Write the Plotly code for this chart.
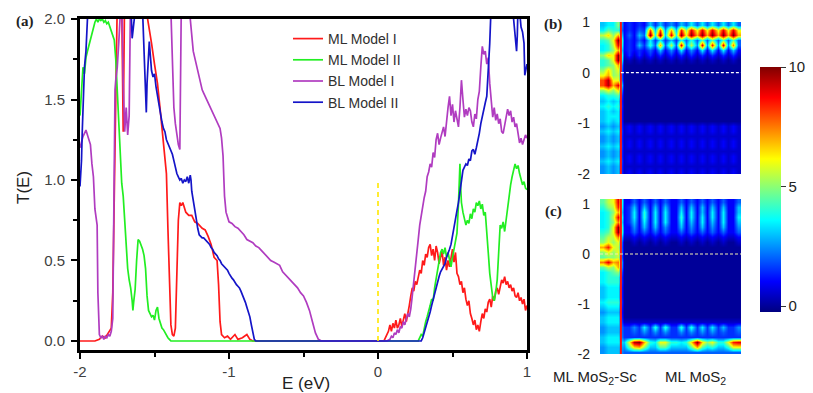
import plotly.graph_objects as go

# ---------------- data: transmission curves T(E) ----------------
ml_model_1 = [(-2.00,0.00),(-1.95,0.00),(-1.90,0.00),(-1.87,0.01),(-1.85,0.03),(-1.83,0.02),(-1.81,0.05),(-1.79,0.08),
 (-1.78,0.30),(-1.775,0.60),(-1.77,0.90),(-1.76,1.50),(-1.75,2.10),(-1.74,2.30),(-1.72,2.10),(-1.71,1.30),(-1.70,2.20),
 (-1.66,2.40),(-1.62,2.30),(-1.58,2.20),(-1.555,2.05),(-1.54,1.97),(-1.52,1.85),(-1.50,1.72),(-1.48,1.60),(-1.46,1.42),
 (-1.45,1.33),(-1.43,1.15),(-1.42,1.04),(-1.41,0.70),(-1.40,0.35),(-1.39,0.10),(-1.38,0.04),(-1.37,0.03),(-1.36,0.08),
 (-1.35,0.50),(-1.34,0.75),(-1.33,0.86),(-1.32,0.84),(-1.31,0.86),(-1.29,0.80),(-1.27,0.78),(-1.25,0.78),(-1.23,0.74),
 (-1.21,0.73),(-1.18,0.70),(-1.16,0.69),(-1.14,0.65),(-1.12,0.60),(-1.10,0.52),(-1.08,0.50),(-1.07,0.35),(-1.06,0.12),
 (-1.05,0.04),(-1.03,0.02),(-1.01,0.03),(-0.99,0.01),(-0.96,0.04),(-0.94,0.01),(-0.91,0.02),(-0.88,0.04),(-0.86,0.01),
 (-0.84,0.00),(0.04,0.00),(0.05,0.02),(0.07,0.06),(0.08,0.10),(0.09,0.06),(0.10,0.11),(0.11,0.08),(0.12,0.13),(0.13,0.08),
 (0.14,0.10),(0.15,0.14),(0.16,0.09),(0.17,0.13),(0.18,0.17),(0.19,0.12),(0.20,0.16),(0.21,0.22),(0.22,0.28),(0.23,0.33),
 (0.24,0.31),(0.25,0.37),(0.26,0.35),(0.27,0.40),(0.28,0.44),(0.29,0.42),(0.30,0.50),(0.31,0.47),(0.32,0.54),(0.33,0.52),
 (0.34,0.58),(0.35,0.60),(0.36,0.53),(0.37,0.57),(0.38,0.50),(0.39,0.59),(0.40,0.55),(0.41,0.48),(0.42,0.52),(0.43,0.56),
 (0.44,0.47),(0.45,0.52),(0.46,0.44),(0.47,0.50),(0.48,0.46),(0.49,0.53),(0.50,0.57),(0.51,0.49),(0.52,0.55),(0.53,0.42),
 (0.54,0.40),(0.55,0.35),(0.56,0.37),(0.57,0.30),(0.58,0.33),(0.59,0.26),(0.60,0.22),(0.61,0.25),(0.62,0.17),(0.63,0.14),
 (0.64,0.10),(0.65,0.13),(0.66,0.07),(0.67,0.10),(0.68,0.06),(0.69,0.12),(0.70,0.17),(0.71,0.14),(0.72,0.20),(0.73,0.18),
 (0.74,0.24),(0.75,0.26),(0.76,0.21),(0.77,0.28),(0.78,0.25),(0.79,0.31),(0.80,0.33),(0.81,0.29),(0.82,0.34),(0.83,0.38),
 (0.84,0.36),(0.85,0.40),(0.86,0.35),(0.87,0.37),(0.88,0.33),(0.89,0.35),(0.90,0.31),(0.91,0.33),(0.92,0.28),(0.93,0.27),
 (0.94,0.30),(0.95,0.25),(0.96,0.27),(0.97,0.23),(0.98,0.26),(0.99,0.19),(1.00,0.22)]

ml_model_2 = [(-2.00,1.40),(-1.99,1.60),(-1.98,1.70),(-1.97,1.66),(-1.96,1.76),(-1.95,1.80),(-1.94,1.84),(-1.93,1.86),
 (-1.92,1.92),(-1.91,1.95),(-1.90,1.98),(-1.89,2.00),(-1.88,1.98),(-1.87,2.00),(-1.86,1.99),(-1.85,2.00),(-1.84,1.98),
 (-1.83,1.99),(-1.82,1.97),(-1.81,1.98),(-1.80,1.95),(-1.79,1.92),(-1.78,1.90),(-1.77,1.87),(-1.76,1.75),(-1.75,1.55),
 (-1.74,1.30),(-1.73,1.10),(-1.72,0.98),(-1.71,0.90),(-1.70,0.75),(-1.69,0.60),(-1.68,0.45),(-1.67,0.38),(-1.66,0.33),
 (-1.65,0.25),(-1.645,0.19),(-1.64,0.24),(-1.63,0.32),(-1.62,0.50),(-1.61,0.63),(-1.60,0.62),(-1.59,0.60),(-1.58,0.57),
 (-1.57,0.53),(-1.56,0.45),(-1.55,0.28),(-1.54,0.19),(-1.53,0.17),(-1.52,0.15),(-1.51,0.16),(-1.50,0.13),(-1.49,0.19),
 (-1.48,0.21),(-1.47,0.14),(-1.46,0.10),(-1.45,0.08),(-1.44,0.07),(-1.43,0.05),(-1.42,0.04),(-1.41,0.02),(-1.40,0.01),
 (-1.39,0.00),(0.27,0.00),(0.28,0.02),(0.29,0.04),(0.30,0.03),(0.31,0.08),(0.32,0.12),(0.33,0.15),(0.34,0.18),(0.35,0.22),
 (0.36,0.26),(0.37,0.25),(0.38,0.33),(0.39,0.38),(0.40,0.44),(0.41,0.50),(0.42,0.55),(0.43,0.57),(0.44,0.54),(0.45,0.58),
 (0.46,0.52),(0.47,0.55),(0.48,0.49),(0.49,0.46),(0.50,0.52),(0.51,0.58),(0.52,0.64),(0.53,0.67),(0.54,0.85),(0.545,1.08),
 (0.55,1.10),(0.555,0.95),(0.56,0.86),(0.57,0.80),(0.58,0.76),(0.59,0.72),(0.60,0.75),(0.61,0.73),(0.62,0.79),(0.63,0.76),
 (0.64,0.82),(0.65,0.80),(0.66,0.86),(0.67,0.84),(0.68,0.87),(0.69,0.82),(0.70,0.85),(0.71,0.78),(0.72,0.80),(0.73,0.70),
 (0.74,0.55),(0.75,0.42),(0.76,0.35),(0.77,0.27),(0.78,0.25),(0.79,0.30),(0.80,0.38),(0.81,0.55),(0.82,0.72),(0.83,0.70),
 (0.84,0.74),(0.85,0.68),(0.86,0.76),(0.87,0.83),(0.88,0.92),(0.89,0.97),(0.90,1.02),(0.91,1.06),(0.92,1.10),(0.93,1.07),
 (0.94,1.09),(0.95,1.04),(0.96,1.01),(0.97,0.97),(0.98,0.99),(0.99,0.95),(1.00,0.94)]

bl_model_1 = [(-2.00,1.20),(-1.99,1.24),(-1.98,1.27),(-1.97,1.29),(-1.96,1.31),(-1.95,1.28),(-1.94,1.25),(-1.93,1.22),
 (-1.92,1.10),(-1.91,1.02),(-1.90,0.82),(-1.89,0.76),(-1.885,0.72),(-1.88,0.30),(-1.875,0.10),(-1.87,0.04),(-1.86,0.02),
 (-1.85,0.03),(-1.84,0.01),(-1.83,0.03),(-1.82,0.02),(-1.81,0.04),(-1.80,0.03),(-1.79,0.06),(-1.78,0.14),(-1.775,0.60),
 (-1.77,1.20),(-1.765,1.56),(-1.76,1.62),(-1.75,1.70),(-1.74,1.85),(-1.73,2.10),(-1.72,2.20),(-1.71,1.60),(-1.70,1.30),
 (-1.69,1.45),(-1.68,1.28),(-1.67,1.40),(-1.665,1.90),(-1.66,2.20),(-1.50,2.30),(-1.40,2.20),(-1.39,2.05),(-1.38,1.70),
 (-1.37,1.45),(-1.36,1.35),(-1.35,1.28),(-1.34,1.22),(-1.33,1.19),(-1.325,1.50),(-1.32,2.10),(-1.30,2.20),(-1.27,2.10),
 (-1.26,2.00),(-1.25,1.88),(-1.24,1.80),(-1.23,1.76),(-1.22,1.72),(-1.21,1.68),(-1.20,1.63),(-1.19,1.60),(-1.18,1.56),
 (-1.17,1.54),(-1.16,1.52),(-1.15,1.50),(-1.14,1.48),(-1.13,1.46),(-1.12,1.44),(-1.11,1.42),(-1.10,1.41),(-1.09,1.38),
 (-1.08,1.36),(-1.07,1.34),(-1.06,1.32),(-1.05,1.26),(-1.04,1.15),(-1.035,1.02),(-1.03,0.90),(-1.02,0.80),(-1.01,0.76),
 (-1.00,0.74),(-0.98,0.73),(-0.96,0.71),(-0.94,0.70),(-0.92,0.68),(-0.90,0.66),(-0.88,0.63),(-0.86,0.62),(-0.84,0.61),
 (-0.82,0.59),(-0.80,0.58),(-0.78,0.56),(-0.76,0.54),(-0.74,0.52),(-0.72,0.50),(-0.70,0.49),(-0.68,0.48),(-0.66,0.47),
 (-0.64,0.43),(-0.62,0.41),(-0.60,0.39),(-0.58,0.37),(-0.56,0.35),(-0.54,0.33),(-0.52,0.30),(-0.50,0.28),(-0.48,0.24),
 (-0.46,0.19),(-0.44,0.12),(-0.42,0.05),(-0.40,0.01),(-0.38,0.00),(0.06,0.00),(0.08,0.01),(0.09,0.03),(0.10,0.02),
 (0.11,0.05),(0.12,0.04),(0.13,0.07),(0.14,0.05),(0.15,0.09),(0.16,0.08),(0.17,0.12),(0.18,0.10),(0.19,0.14),(0.20,0.17),
 (0.21,0.15),(0.22,0.20),(0.23,0.28),(0.24,0.38),(0.25,0.47),(0.26,0.55),(0.27,0.63),(0.28,0.72),(0.29,0.78),(0.30,0.86),
 (0.31,0.89),(0.32,0.93),(0.33,1.02),(0.34,1.05),(0.35,1.10),(0.36,1.08),(0.37,1.17),(0.38,1.14),(0.39,1.25),(0.40,1.29),
 (0.41,1.22),(0.42,1.26),(0.43,1.30),(0.44,1.33),(0.45,1.27),(0.46,1.38),(0.47,1.45),(0.48,1.52),(0.49,1.40),(0.50,1.47),
 (0.51,1.36),(0.52,1.43),(0.53,1.39),(0.54,1.33),(0.55,1.45),(0.56,1.62),(0.57,1.50),(0.58,1.39),(0.59,1.44),(0.60,1.40),
 (0.61,1.45),(0.62,1.43),(0.63,1.36),(0.64,1.33),(0.65,1.41),(0.66,1.38),(0.67,1.50),(0.68,1.55),(0.69,1.70),(0.70,1.83),
 (0.71,1.78),(0.72,1.80),(0.73,1.72),(0.74,1.76),(0.75,1.60),(0.76,1.50),(0.77,1.39),(0.78,1.45),(0.79,1.37),(0.80,1.41),
 (0.81,1.35),(0.82,1.38),(0.83,1.30),(0.84,1.29),(0.85,1.34),(0.86,1.38),(0.87,1.44),(0.88,1.40),(0.89,1.43),(0.90,1.36),
 (0.91,1.39),(0.92,1.33),(0.93,1.35),(0.94,1.29),(0.95,1.23),(0.96,1.26),(0.97,1.22),(0.98,1.25),(0.99,1.28),(1.00,1.26)]

bl_model_2 = [(-2.00,0.96),(-1.99,1.12),(-1.985,1.30),(-1.98,1.50),(-1.975,1.62),(-1.97,1.70),(-1.96,1.80),(-1.955,1.90),
 (-1.95,2.00),(-1.94,2.20),(-1.70,2.30),(-1.655,2.00),(-1.65,1.88),(-1.64,1.95),(-1.63,2.05),(-1.60,2.30),(-1.58,2.05),
 (-1.57,1.75),(-1.56,1.55),(-1.555,1.42),(-1.55,1.60),(-1.54,1.78),(-1.535,1.86),(-1.53,1.80),(-1.52,1.68),(-1.51,1.64),
 (-1.50,1.66),(-1.49,1.58),(-1.48,1.52),(-1.47,1.46),(-1.46,1.40),(-1.45,1.36),(-1.44,1.32),(-1.43,1.30),(-1.42,1.25),
 (-1.41,1.23),(-1.40,1.20),(-1.39,1.18),(-1.38,1.16),(-1.37,1.12),(-1.36,1.07),(-1.35,1.04),(-1.34,1.02),(-1.33,1.00),
 (-1.32,1.01),(-1.31,0.98),(-1.30,1.00),(-1.29,0.99),(-1.28,1.02),(-1.27,0.98),(-1.26,1.03),(-1.255,1.00),(-1.25,0.93),
 (-1.24,0.88),(-1.23,0.82),(-1.22,0.76),(-1.21,0.70),(-1.20,0.66),(-1.19,0.65),(-1.18,0.64),(-1.17,0.64),(-1.16,0.63),
 (-1.15,0.62),(-1.14,0.61),(-1.13,0.60),(-1.12,0.58),(-1.11,0.57),(-1.10,0.55),(-1.09,0.54),(-1.08,0.53),(-1.07,0.51),
 (-1.06,0.50),(-1.05,0.48),(-1.04,0.47),(-1.03,0.46),(-1.02,0.45),(-1.01,0.44),(-1.00,0.42),(-0.99,0.40),(-0.98,0.39),
 (-0.97,0.38),(-0.96,0.36),(-0.95,0.35),(-0.94,0.34),(-0.93,0.33),(-0.92,0.31),(-0.91,0.29),(-0.90,0.27),(-0.89,0.24),
 (-0.88,0.21),(-0.87,0.18),(-0.86,0.15),(-0.85,0.10),(-0.84,0.05),(-0.83,0.01),(-0.82,0.00),(0.28,0.00),(0.29,0.00),
 (0.30,0.02),(0.31,0.05),(0.32,0.08),(0.33,0.12),(0.34,0.15),(0.35,0.18),(0.36,0.22),(0.37,0.26),(0.38,0.29),(0.39,0.32),
 (0.40,0.36),(0.41,0.40),(0.42,0.43),(0.43,0.45),(0.44,0.47),(0.45,0.48),(0.46,0.52),(0.47,0.54),(0.48,0.57),(0.49,0.60),
 (0.50,0.66),(0.51,0.71),(0.52,0.76),(0.53,0.81),(0.54,0.86),(0.55,0.92),(0.56,0.98),(0.57,1.06),(0.58,1.08),(0.59,1.10),
 (0.60,1.09),(0.61,1.13),(0.62,1.12),(0.63,1.18),(0.64,1.19),(0.65,1.16),(0.66,1.20),(0.67,1.24),(0.68,1.29),(0.69,1.35),
 (0.70,1.40),(0.71,1.44),(0.72,1.48),(0.73,1.52),(0.74,1.66),(0.75,1.85),(0.76,2.10),(0.80,2.30),(0.88,2.30),(0.90,2.10),
 (0.91,1.95),(0.92,1.85),(0.93,1.80),(0.935,1.90),(0.94,2.10),(0.95,2.05),(0.96,1.95),(0.97,1.92),(0.98,1.85),(0.985,1.65),
 (0.99,1.68),(1.00,1.72)]

series_names = ["ML Model I", "ML Model II", "BL Model I", "BL Model II"]
series_colors = ["#ff1a1a", "#22ee22", "#b03cc0", "#1414c8"]
fermi_level = 0.0
fermi_mark_top = 1.0

# ---------------- data: local DOS maps (b) and (c) ----------------
# each character is a level in half units (0 -> 0, 1 -> 0.5, ..., K -> 10)
# first 4 columns: ML MoS2-Sc region, after "|": ML MoS2 region
levels = "0123456789ABCDEFGHIJK"
energies_b = [0.95, 0.85, 0.75, 0.65, 0.55, 0.45, 0.35, 0.25, 0.15, 0.05, -0.05, -0.15, -0.25, -0.35, -0.45,
              -0.55, -0.65, -0.75, -0.85, -0.95, -1.05, -1.15, -1.25, -1.35, -1.45, -1.55, -1.65, -1.75, -1.85, -1.95]
ldos_b = [
 "677A|23232636353647474747474",
 "7988|23243G6G5E6HAICICICICIC",
 "BDAE|24264K8K6I8KCKEKEKEKEKE",
 "89CK|23242737363848494949494",
 "78BI|2326384E4B4I5B5I5H5I5F4",
 "78AE|23232426252725272727262",
 "ADCK|13131313131313131313131",
 "89CK|01010101010101010101010",
 "89AE|00000000000000000000000",
 "ADAC|00000000000000000000000",
 "CEAB|00000000000000000000000",
 "GJCC|00000000000000000000000",
 "GJEI|00000000000000000000000",
 "ACAD|00000000000000000000000",
 "7889|00000000000000000000000",
 "6767|00000000000000000000000",
 "7878|00000000000000000000000",
 "6767|00000000000000000000000",
 "6777|00000000000000000000000",
 "6767|00000000000000000000000",
 "5656|12121212121212121212121",
 "6767|12121212121212121212121",
 "5656|11111111111111111111111",
 "5656|12121212121212121212121",
 "6767|12121212121212121212121",
 "5656|11111111111111111111111",
 "5656|12121212121212121212121",
 "6767|12121212121212121212121",
 "5656|11111111111111111111111",
 "5656|12121212121212121212121",
]
energies_c = [1.05, 0.95, 0.85, 0.75, 0.65, 0.55, 0.45, 0.35, 0.25, 0.15, 0.05, -0.05, -0.15, -0.25, -0.35, -0.45,
              -0.55, -0.65, -0.75, -0.85, -0.95, -1.05, -1.15, -1.25, -1.35, -1.45, -1.55, -1.65, -1.75, -1.85, -1.95]
ldos_c = [
 "9BCI|22424242422424242424224",
 "8ABH|23626262622626262626226",
 "78AE|23728272722727262727226",
 "78BI|23728272722827272727227",
 "78AF|23627272722726272627226",
 "78CK|22526262522625262526225",
 "89CK|22424242422424242424224",
 "9BBF|11212121211212121212112",
 "ACAC|00101010100101010101001",
 "EHCB|00000000000000000000000",
 "ACAC|00000000000000000000000",
 "9AAB|00000000000000000000000",
 "FIEF|00000000000000000000000",
 "9BAE|00000000000000000000000",
 "789A|00000000000000000000000",
 "7888|00000000000000000000000",
 "7888|00000000000000000000000",
 "6777|00000000000000000000000",
 "6777|00000000000000000000000",
 "6777|00000000000000000000000",
 "7888|00000000000000000000000",
 "6777|00000000000000000000000",
 "5666|00000000000000000000000",
 "6777|00000000000000000000000",
 "6777|11111111111111111111111",
 "5666|33537383833838373736335",
 "5666|33435353533535353534334",
 "6777|33333333333333333333333",
 "6777|6CJKE87CC8878DKDAC88CHI",
 "5666|59DEA669966669E978668CC",
 "5666|44444444444444444444444",
]
colorbar_ticks = [0, 5, 10]


def decode(rows):
    out = []
    for r in rows:
        sc, mos2 = r.split("|")
        assert len(sc) == 4 and len(mos2) == 23, r
        out.append([levels.index(ch) / 2 for ch in sc + mos2])
    return out


z_b = decode(ldos_b)[::-1]
y_b = energies_b[::-1]
z_c = decode(ldos_c)[::-1]
y_c = energies_c[::-1]
n_sc = len(ldos_b[0].split("|")[0])
n_cols = len(z_b[0])
cols = list(range(n_cols))
boundary = n_sc - 0.5

# ---------------- figure ----------------
W, H = 813, 393
def fx(p): return p / W
def fy(p): return 1 - p / H

FONT = "Liberation Sans"
jet = [[0, "rgb(0,0,128)"], [0.125, "rgb(0,0,255)"], [0.375, "rgb(0,255,255)"],
       [0.625, "rgb(255,255,0)"], [0.875, "rgb(255,0,0)"], [1, "rgb(128,0,0)"]]

fig = go.Figure()
for name, pts, color in zip(series_names, [ml_model_1, ml_model_2, bl_model_1, bl_model_2], series_colors):
    fig.add_trace(go.Scatter(x=[p[0] for p in pts], y=[p[1] for p in pts], mode="lines", name=name,
                             line=dict(color=color, width=1.7), xaxis="x", yaxis="y"))
fig.add_trace(go.Scatter(x=[fermi_level, fermi_level], y=[0, fermi_mark_top], mode="lines", showlegend=False,
                         line=dict(color="#ffe800", width=1.6, dash="5px,4px"), xaxis="x", yaxis="y"))

fig.add_trace(go.Heatmap(x=cols, y=y_b, z=z_b, colorscale=jet, zmin=-0.25, zmax=10, zsmooth="best",
                         xaxis="x2", yaxis="y2", showscale=True,
                         colorbar=dict(x=fx(760), xanchor="left", y=fy(67), yanchor="top", len=245 / H,
                                       lenmode="fraction", thickness=21, thicknessmode="pixels",
                                       outlinewidth=0, xpad=0, ypad=0, tickvals=colorbar_ticks,
                                       ticktext=[str(t) for t in colorbar_ticks], ticks="outside", ticklen=5,
                                       tickcolor="#333", tickfont=dict(family=FONT, size=15, color="#222"))))
fig.add_trace(go.Heatmap(x=cols, y=y_c, z=z_c, colorscale=jet, zmin=-0.25, zmax=10, zsmooth="best",
                         xaxis="x3", yaxis="y3", showscale=False))

axis_common = dict(showgrid=False, zeroline=False, automargin=False)
tickfont = dict(family=FONT, size=15, color="#404040")


def label(text, x, y, size=15, family=FONT, angle=0):
    return dict(text=text, x=fx(x), y=fy(y), xref="paper", yref="paper", showarrow=False,
                xanchor="center", yanchor="middle", textangle=angle,
                font=dict(family=family, size=size, color="#222"))


fig.update_layout(
    width=W, height=H, margin=dict(l=0, r=0, t=0, b=0, pad=0, autoexpand=False),
    paper_bgcolor="white", plot_bgcolor="white",
    xaxis=dict(domain=[fx(80), fx(527)], range=[-2, 1], tickvals=[-2, -1, 0, 1], ticktext=["-2", "-1", "0", "1"],
               ticks="outside", ticklen=6, tickwidth=2, tickcolor="black", showline=True, linewidth=3,
               linecolor="black", mirror=True, tickfont=tickfont, anchor="y",
               minor=dict(tickvals=[-1.5, -0.5, 0.5], ticks="outside", ticklen=4, tickwidth=2, tickcolor="black"),
               **axis_common),
    yaxis=dict(domain=[fy(350), fy(19)], range=[-0.056, 2.0], tickvals=[0, 0.5, 1, 1.5, 2],
               ticktext=["0.0", "0.5", "1.0", "1.5", "2.0"], ticks="outside", ticklen=6, tickwidth=2,
               tickcolor="black", showline=True, linewidth=3, linecolor="black", mirror=True,
               tickfont=tickfont, anchor="x", ticklabelstandoff=3,
               minor=dict(tickvals=[0.25, 0.75, 1.25, 1.75], ticks="outside", ticklen=4, tickwidth=2,
                          tickcolor="black"),
               **axis_common),
    xaxis2=dict(domain=[fx(600), fx(741)], range=[-0.5, n_cols - 0.5], visible=False, anchor="y2", **axis_common),
    yaxis2=dict(domain=[fy(174), fy(22)], range=[-2, 1], tickvals=[-2, -1, 0, 1], ticktext=["-2", "-1", "0", "1"],
                ticks="", showline=False, tickfont=dict(family=FONT, size=14, color="#222"), anchor="x2",
                ticklabelstandoff=9, **axis_common),
    xaxis3=dict(domain=[fx(600), fx(741)], range=[-0.5, n_cols - 0.5], visible=False, anchor="y3", **axis_common),
    yaxis3=dict(domain=[fy(354), fy(199)], range=[-2, 1.1], tickvals=[-2, -1, 0, 1], ticktext=["-2", "-1", "0", "1"],
                ticks="", showline=False, tickfont=dict(family=FONT, size=14, color="#222"), anchor="x3",
                ticklabelstandoff=9, **axis_common),
    legend=dict(x=fx(288), y=fy(23), xanchor="left", yanchor="top", bgcolor="rgba(0,0,0,0)",
                font=dict(family=FONT, size=14, color="#303030"), itemwidth=30, tracegroupgap=0),
    shapes=[
        dict(type="line", xref="x2", yref="y2 domain", x0=boundary, x1=boundary, y0=0, y1=1,
             line=dict(color="#ff1010", width=2)),
        dict(type="line", xref="x3", yref="y3 domain", x0=boundary, x1=boundary, y0=0, y1=1,
             line=dict(color="#ff1010", width=2)),
        dict(type="line", xref="x2", yref="y2", x0=boundary, x1=n_cols - 0.5, y0=fermi_level, y1=fermi_level,
             line=dict(color="white", width=1.2, dash="3px,2px")),
        dict(type="line", xref="x3", yref="y3", x0=-0.5, x1=n_cols - 0.5, y0=fermi_level, y1=fermi_level,
             line=dict(color="#f2eeb0", width=1.2, dash="3px,2px")),
    ],
    annotations=[
        label("T(E)", 23, 188, size=17, angle=-90),
        label("E (eV)", 306, 383, size=17),
        label("<b>(a)</b>", 25, 22, family="Liberation Serif"),
        label("<b>(b)</b>", 553, 25, family="Liberation Serif"),
        label("<b>(c)</b>", 553, 211, family="Liberation Serif"),
        label("ML MoS<sub>2</sub>-Sc", 595, 377),
        label("ML MoS<sub>2</sub>", 695, 377),
    ],
)

fig.write_html("out.html", config={"displayModeBar": False},
               post_script="document.body.style.margin='0px';")
